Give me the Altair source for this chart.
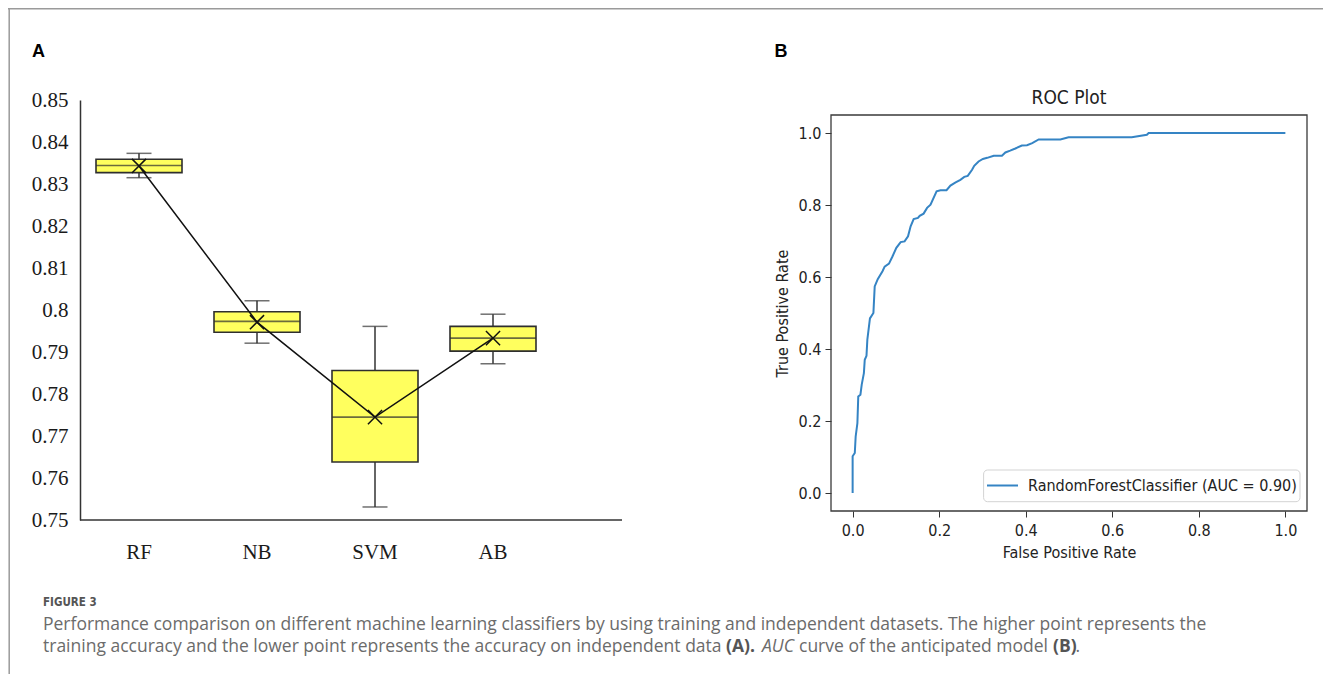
import altair as alt
import pandas as pd

# ---------------- data: panel A (box plots) ----------------
categories = ["RF", "NB", "SVM", "AB"]
whisker_low = [0.8315, 0.7921, 0.7531, 0.7872]
q1 = [0.8327, 0.7947, 0.7638, 0.7902]
median = [0.8344, 0.7973, 0.7745, 0.7933]
q3 = [0.8359, 0.7996, 0.7856, 0.7961]
whisker_high = [0.8373, 0.8022, 0.7961, 0.7990]
mean = [0.8343, 0.7971, 0.7745, 0.7933]
a_ticks = [0.75, 0.76, 0.77, 0.78, 0.79, 0.80, 0.81, 0.82, 0.83, 0.84, 0.85]
a_domain = [0.75, 0.85]

# ---------------- data: panel B (ROC curve) ----------------
fpr = [0.0, 0.0, 0.005, 0.007, 0.011, 0.013, 0.018, 0.021, 0.026, 0.028,
       0.032, 0.034, 0.040, 0.048, 0.051, 0.058, 0.069, 0.074, 0.084, 0.092,
       0.101, 0.111, 0.120, 0.128, 0.134, 0.141, 0.151, 0.155, 0.164, 0.172,
       0.180, 0.194, 0.203, 0.217, 0.226, 0.238, 0.249, 0.258, 0.266, 0.276,
       0.281, 0.291, 0.301, 0.311, 0.326, 0.345, 0.353, 0.364, 0.376, 0.391,
       0.403, 0.415, 0.430, 0.480, 0.499, 0.645, 0.680, 0.684, 1.0]
tpr = [0.0, 0.102, 0.111, 0.157, 0.194, 0.268, 0.273, 0.301, 0.333, 0.370,
       0.381, 0.426, 0.485, 0.500, 0.574, 0.594, 0.616, 0.629, 0.637, 0.657,
       0.681, 0.697, 0.699, 0.713, 0.741, 0.761, 0.764, 0.770, 0.776, 0.792,
       0.801, 0.838, 0.841, 0.841, 0.854, 0.863, 0.870, 0.878, 0.881, 0.898,
       0.909, 0.921, 0.928, 0.931, 0.937, 0.937, 0.946, 0.951, 0.957, 0.965,
       0.966, 0.972, 0.982, 0.982, 0.988, 0.988, 0.995, 1.0, 1.0]
roc_ticks = [0.0, 0.2, 0.4, 0.6, 0.8, 1.0]
roc_domain = [-0.05, 1.05]
roc_label = "RandomForestClassifier (AUC = 0.90)"

# ---------------- texts ----------------
panel_a_label = "A"
panel_b_label = "B"
roc_title = "ROC Plot"
roc_xtitle = "False Positive Rate"
roc_ytitle = "True Positive Rate"
fig_label = "FIGURE 3"
caption_1 = ("Performance comparison on different machine learning classifiers by using "
             "training and independent datasets. The higher point represents the")
caption_2a = "training accuracy and the lower point represents the accuracy on independent data"
caption_2b = "(A)."
caption_2c = "AUC"
caption_2d = "curve of the anticipated model"
caption_2e = "(B)"
caption_2f = "."

# ---------------- layout ----------------
W, H = 1315, 666
SERIF = "Liberation Serif"
SANS = "DejaVu Sans Condensed, DejaVu Sans"
CAP = "Open Sans"
CAP_SIZE = 17.5
A_X_RANGE = [72, 544]
A_Y_RANGE = [512, 92]
B_X_RANGE = [823, 1299]
B_Y_RANGE = [503, 107]
YELLOW = "#ffff5e"
BLUE = "#3584c4"

df_a = pd.DataFrame({"cat": categories, "lo": whisker_low, "q1": q1, "med": median,
                     "q3": q3, "hi": whisker_high, "mean": mean})
df_roc = pd.DataFrame({"i": list(range(len(fpr))), "fpr": fpr, "tpr": tpr,
                       "series": [roc_label] * len(fpr)})
df_frame = pd.DataFrame({"x0": [roc_domain[0]], "x1": [roc_domain[1]],
                         "y0": [roc_domain[0]], "y1": [roc_domain[1]]})

# ---------------- panel A ----------------
xa_axis = alt.Axis(orient="bottom", offset=-(H - A_Y_RANGE[0]), domain=False, ticks=False,
                   tickSize=0, labelPadding=21, labelFont=SERIF, labelFontSize=21,
                   labelColor="#1a1a1a", labelAngle=0, grid=False)
ya_axis = alt.Axis(orient="left", offset=-A_X_RANGE[0], values=a_ticks, format="~g",
                   domain=True, domainColor="#333333", domainWidth=1.5, ticks=False,
                   tickSize=0, labelPadding=12, labelFont=SERIF, labelFontSize=21,
                   labelColor="#1a1a1a", grid=False)
xa_scale = alt.Scale(type="band", domain=categories, range=A_X_RANGE,
                     paddingInner=0, paddingOuter=0)
ya_scale = alt.Scale(domain=a_domain, range=A_Y_RANGE, zero=False, nice=False)


def xa():
    return alt.X("cat:N", sort=categories, scale=xa_scale, axis=xa_axis, title=None)


def ya(field):
    return alt.Y(f"{field}:Q", scale=ya_scale, axis=ya_axis, title=None)


base_a = alt.Chart(df_a)
whiskers = base_a.mark_rule(color="#333333", strokeWidth=1.5).encode(
    x=xa(), y=ya("lo"), y2="hi:Q")
cap_lo = base_a.mark_tick(color="#333333", size=25, thickness=1.5).encode(x=xa(), y=ya("lo"))
cap_hi = base_a.mark_tick(color="#333333", size=25, thickness=1.5).encode(x=xa(), y=ya("hi"))
boxes = base_a.mark_bar(width=86, fill=YELLOW, stroke="#2e2e2e", strokeWidth=1.6).encode(
    x=xa(), y=ya("q1"), y2="q3:Q")
medians = base_a.mark_tick(color="#2e2e2e", size=86, thickness=1.6).encode(
    x=xa(), y=ya("med"))
mean_line = base_a.mark_line(color="#111111", strokeWidth=1.5).encode(x=xa(), y=ya("mean"))
mean_marks = base_a.mark_point(shape="M-1,-1L1,1M-1,1L1,-1", size=200, filled=False,
                               stroke="#111111", strokeWidth=1.5, opacity=1).encode(
    x=xa(), y=ya("mean"))
a_baseline = alt.Chart(pd.DataFrame({"v": [0]})).mark_rule(
    color="#333333", strokeWidth=1.5).encode(
    x=alt.value(A_X_RANGE[0]), x2=alt.value(614), y=alt.value(A_Y_RANGE[0]))

panel_a = alt.layer(whiskers, cap_lo, cap_hi, boxes, medians, mean_line, mean_marks,
                    a_baseline)

# ---------------- panel B ----------------
xb_axis = alt.Axis(orient="bottom", offset=-(H - B_Y_RANGE[0]), values=roc_ticks,
                   format=".1f", domain=False, ticks=True, tickSize=6, tickColor="#333333",
                   tickWidth=1, labelPadding=5, labelFont=SANS, labelFontSize=16,
                   labelColor="#222222", labelFlush=False, titleFont=SANS,
                   titleFontSize=16, titleFontWeight="normal", titleColor="#222222",
                   titlePadding=6, grid=False)
yb_axis = alt.Axis(orient="left", offset=-B_X_RANGE[0], values=roc_ticks, format=".1f",
                   domain=False, ticks=True, tickSize=6, tickColor="#333333", tickWidth=1,
                   labelPadding=4, labelFont=SANS, labelFontSize=16, labelColor="#222222",
                   labelFlush=False, titleFont=SANS, titleFontSize=16,
                   titleFontWeight="normal", titleColor="#222222", titlePadding=8,
                   grid=False)
xb_scale = alt.Scale(domain=roc_domain, range=B_X_RANGE, zero=False, nice=False)
yb_scale = alt.Scale(domain=roc_domain, range=B_Y_RANGE, zero=False, nice=False)

frame = alt.Chart(df_frame).mark_rect(fillOpacity=0, stroke="#3a3a3a", strokeWidth=1.3).encode(
    x=alt.X("x0:Q", scale=xb_scale, axis=xb_axis, title=roc_xtitle),
    x2="x1:Q",
    y=alt.Y("y0:Q", scale=yb_scale, axis=yb_axis, title=roc_ytitle),
    y2="y1:Q")
roc_line = alt.Chart(df_roc).mark_line(strokeWidth=2, color=BLUE).encode(
    x=alt.X("fpr:Q", scale=xb_scale, axis=xb_axis, title=roc_xtitle),
    y=alt.Y("tpr:Q", scale=yb_scale, axis=yb_axis, title=roc_ytitle),
    order="i:Q")

legend_box = alt.Chart(pd.DataFrame({"v": [0]})).mark_rect(
    cornerRadius=4, fill="white", stroke="#d3d3d3", strokeWidth=1).encode(
    x=alt.value(975.6), x2=alt.value(1292), y=alt.value(462), y2=alt.value(493.7))
legend_sym = alt.Chart(pd.DataFrame({"v": [0]})).mark_rule(color=BLUE, strokeWidth=2).encode(
    x=alt.value(979), x2=alt.value(1010), y=alt.value(477.5))
legend_txt = alt.Chart(pd.DataFrame({"t": [roc_label]})).mark_text(
    align="left", baseline="middle", font=SANS, fontSize=16, color="#222222").encode(
    x=alt.value(1020), y=alt.value(478), text="t:N")

panel_b = alt.layer(frame, roc_line, legend_box, legend_sym, legend_txt)


# ---------------- free texts ----------------
def label(txt, x, y, size, font, weight="normal", style="normal", color="#000000",
          align="left"):
    return alt.Chart(pd.DataFrame({"t": [txt]})).mark_text(
        align=align, baseline="middle", font=font, fontSize=size, fontWeight=weight,
        fontStyle=style, color=color).encode(x=alt.value(x), y=alt.value(y), text="t:N")


CAPC = "#6b6b6b"
texts = [
    label(panel_a_label, 24, 44, 18, "Liberation Sans", weight="bold"),
    label(panel_b_label, 766.5, 44, 18, "Liberation Sans", weight="bold"),
    label(roc_title, 1061, 90, 19, SANS, color="#222222", align="center"),
    label(fig_label, 35, 595, 11.5, SANS, weight=600, color="#555555"),
    label(caption_1, 35, 617, CAP_SIZE, CAP, color=CAPC),
    label(caption_2a, 35, 639, CAP_SIZE, CAP, color=CAPC),
    label(caption_2b, 718, 639, CAP_SIZE, CAP, weight="bold", color="#555555"),
    label(caption_2c, 754, 639, CAP_SIZE, CAP, style="italic", color=CAPC),
    label(caption_2d, 791, 639, CAP_SIZE, CAP, color=CAPC),
    label(caption_2e, 1045, 639, CAP_SIZE, CAP, weight="bold", color="#555555"),
    label(caption_2f, 1067.5, 639, CAP_SIZE, CAP, color=CAPC),
]

border_top = alt.Chart(pd.DataFrame({"v": [0]})).mark_rule(
    color="#9a9a9a", strokeWidth=1.5).encode(x=alt.value(0), x2=alt.value(W), y=alt.value(0.75))
border_left = alt.Chart(pd.DataFrame({"v": [0]})).mark_rule(
    color="#9a9a9a", strokeWidth=1.5).encode(x=alt.value(1.2), y=alt.value(0), y2=alt.value(H))

chart = alt.layer(border_top, border_left, panel_a, panel_b, *texts).resolve_scale(
    x="independent", y="independent").resolve_axis(
    x="independent", y="independent").properties(
    width=W, height=H, autosize=alt.AutoSizeParams(type="none"), padding=0,
    background="white").configure_view(stroke="transparent")

chart.save("out.html", embed_options={"renderer": "svg", "actions": False})
